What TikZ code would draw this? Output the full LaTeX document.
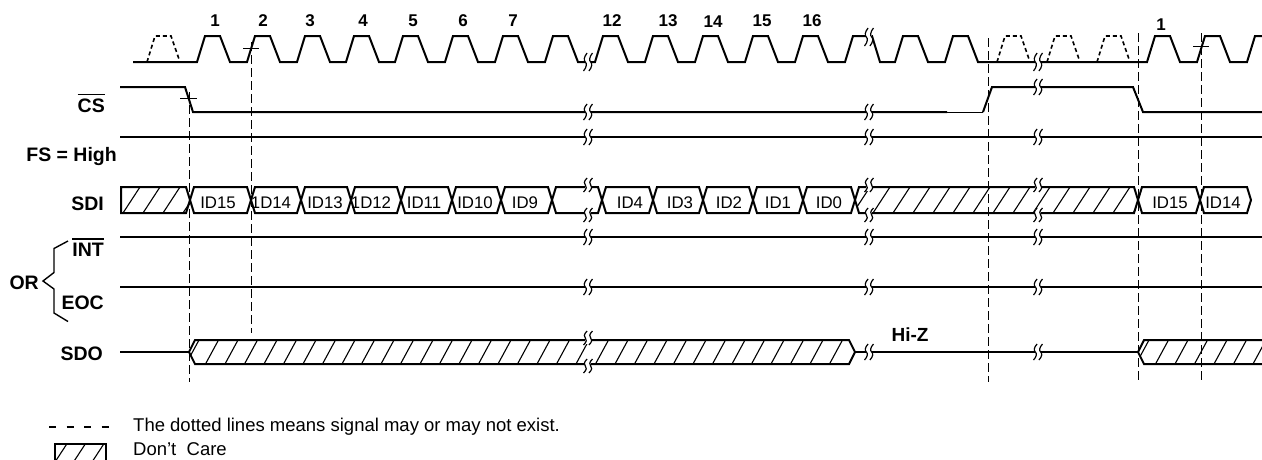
\documentclass[tikz,border=0pt]{standalone}
\usepackage{fontspec}
\setmainfont{Liberation Sans}
\newcommand{\tsquig}[3]{\draw[brkline] (#1+1.8,#2-#3) .. controls (#1-1.6,#2-0.55*#3) and (#1-1.6,#2-0.15*#3) .. (#1,#2) .. controls (#1+1.6,#2+0.15*#3) and (#1+1.6,#2+0.55*#3) .. (#1-1.8,#2+#3);}
\newcommand{\tbrk}[3]{\fill[white] (#1-2.7,#2-#3+1) rectangle (#1+2.7,#2+#3-1); \tsquig{#1-2.7}{#2}{#3}\tsquig{#1+2.7}{#2}{#3}}
\begin{document}
\begin{tikzpicture}[x=1pt,y=-1pt,
  sig/.style={line width=2pt, line join=miter},
  thinsig/.style={line width=0.9pt},
  guide/.style={line width=0.9pt, dash pattern=on 9pt off 4pt},
  maybe/.style={line width=1.6pt, dash pattern=on 4pt off 3pt},
  hatch/.style={line width=1.1pt},
  brkline/.style={line width=1.2pt},
  lbl/.style={font=\fontsize{19.5}{22}\selectfont\bfseries, inner sep=0pt},
  num/.style={font=\fontsize{17}{20}\selectfont\bfseries, inner sep=0pt},
  dat/.style={font=\fontsize{16.8}{19}\selectfont, inner sep=0pt},
  leg/.style={font=\fontsize{18.5}{21}\selectfont, inner sep=0pt},
]
\useasboundingbox (0,0) rectangle (1262,459);

% guide lines
\foreach \x/\a/\b in {189/92/382, 251/42/333, 988/38/382, 1138/33/382, 1201/33/380}
  \draw[guide] (\x,\a) -- (\x,\b);

% clock
\draw[sig] (133,62) \foreach \r in {197,247,297,346,395,445,495,545,595,645,695,745,795} { -- (\r,62) -- (\r+8,36) -- (\r+23,36) -- (\r+33,62) }
  -- (845,62) -- (853,36) -- (872,36) -- (880,62)
  \foreach \r in {895,945,1147,1197} { -- (\r,62) -- (\r+8,36) -- (\r+23,36) -- (\r+33,62) }
  -- (1247,62) -- (1255,36) -- (1263,36);
\foreach \r in {147,997,1047,1097}
  \draw[maybe] (\r,62) -- (\r+8,36) -- (\r+24,36) -- (\r+33,62);
\draw[line width=1pt] (243,48) -- (259,48);
\draw[line width=1pt] (1193,46) -- (1209,46);
\draw[line width=1pt] (180,98) -- (197,98);

% CS
\draw[sig] (120,87) -- (185,87) -- (193,112) -- (947,112);
\draw[thinsig] (947,112) -- (983,112);
\draw[sig] (983,112) -- (992,87) -- (1133,87) -- (1143,112) -- (1263,112);

% FS, INT, EOC
\foreach \y in {137,237,287} \draw[sig] (120,\y) -- (1263,\y);

% SDI
\begin{scope}
  \clip (121,187) -- (186,187) -- (190,200) -- (186,213) -- (121,213) -- cycle;
  \foreach \x in {123,143,163,183} \draw[hatch] (\x,213) -- (\x+17,187);
\end{scope}
\draw[sig] (121,187) -- (186,187) -- (190,200) -- (186,213) -- (121,213) -- cycle;
\foreach \a/\b in {190/251,251/301,301/351,351/401,401/452,452/501,501/552,552/602,602/653,653/703,703/753,753/803,803/855,1138/1200,1200/1251}
  \draw[sig] (\a,200) -- (\a+4,187) -- (\b-4,187) -- (\b,200) -- (\b-4,213) -- (\a+4,213) -- cycle;
\begin{scope}
  \clip (855,200) -- (859,187) -- (1134,187) -- (1138,200) -- (1134,213) -- (859,213) -- cycle;
  \foreach \x in {853,873,...,1140} \draw[hatch] (\x,213) -- (\x+17,187);
\end{scope}
\draw[sig] (855,200) -- (859,187) -- (1134,187) -- (1138,200) -- (1134,213) -- (859,213) -- cycle;

% SDO
\draw[sig] (120,352) -- (189,352);
\begin{scope}
  \clip (189,352) -- (195,340) -- (849,340) -- (855,352) -- (849,364) -- (195,364) -- cycle;
  \foreach \x in {186,205.5,...,860} \draw[hatch] (\x,364) -- (\x+13,340);
\end{scope}
\draw[sig] (189,352) -- (195,340) -- (849,340) -- (855,352) -- (849,364) -- (195,364) -- cycle;
\draw[sig] (855,352) -- (1138,352);
\begin{scope}
  \clip (1138,352) -- (1144,340) -- (1263,340) -- (1263,364) -- (1144,364) -- cycle;
  \foreach \x in {1136,1155.5,...,1270} \draw[hatch] (\x,364) -- (\x+13,340);
\end{scope}
\draw[sig] (1263,340) -- (1144,340) -- (1138,352) -- (1144,364) -- (1263,364);

% breaks
\tbrk{588}{62}{9} \tbrk{869}{37}{9} \tbrk{1038}{62}{9}
\tbrk{588}{112}{8} \tbrk{869}{112}{8} \tbrk{1038}{87}{8}
\foreach \x in {588,869,1038} {
  \tbrk{\x}{137}{8}
  \tbrk{\x}{237}{8}
  \tbrk{\x}{287}{8}
  \tbrk{\x}{185}{7}
  \tbrk{\x}{215}{7}
}
\tbrk{588}{338}{7} \tbrk{588}{366}{7}
\tbrk{869}{352}{8} \tbrk{1038}{352}{8}

% labels
\node[lbl,anchor=base east] (lcs) at (105,112) {CS};
\draw[line width=1.4pt] ([yshift=3.5pt]lcs.north west) -- ([yshift=3.5pt]lcs.north east);
\node[lbl,anchor=base east] (lfs) at (117,161) {FS = High};
\node[lbl,anchor=base east] (lsdi) at (104,210) {SDI};
\node[lbl,anchor=base east] (lint) at (104,256) {INT};
\draw[line width=1.4pt] ([yshift=3.5pt]lint.north west) -- ([yshift=3.5pt]lint.north east);
\node[lbl,anchor=base east] (leoc) at (104,309) {EOC};
\node[lbl,anchor=base east] (lor) at (39,289) {OR};
\node[lbl,anchor=base east] (lsdo) at (103,360) {SDO};
\draw[line width=1.4pt] (68,241) -- (54,248.5) -- (54,272.5) -- (43,281) -- (54,289) -- (54,313) -- (68,321.5);

\foreach \n/\x/\y in {1/215/21,2/263/21,3/310/21,4/363/21,5/413/21,6/463/21,7/513/21,12/612/21,13/668/21,14/713/22,15/762/21,16/812/21,1/1161/25}
  \node[num] (n\x) at (\x,\y) {\n};

\foreach \t/\x in {ID15/218,1D14/271,ID13/325,1D12/371,ID11/424,ID10/475,ID9/525,ID4/630,ID3/680,ID2/729,ID1/778,ID0/829,ID15/1170,ID14/1223}
  \node[dat] (d\x) at (\x,202.5) {\t};

\node[lbl,font=\fontsize{19}{22}\selectfont\bfseries] (hiz) at (910,335) {Hi-Z};

% legend
\draw[line width=2.5pt, dash pattern=on 7pt off 10.5pt] (49,427) -- (112,427);
\node[leg,anchor=base west] (legdash) at (133,431) {The dotted lines means signal may or may not exist.};
\begin{scope}
  \clip (55,444) rectangle (106,470);
  \foreach \x in {52.4,70.9,89.4} \draw[hatch] (\x,466) -- (\x+17,440);
\end{scope}
\draw[line width=1.2pt] (55,470) -- (55,444) -- (106,444) -- (106,470);
\node[leg,anchor=base west] (legdc) at (133,455.5) {Don’t\ \ Care};
\end{tikzpicture}
\end{document}
